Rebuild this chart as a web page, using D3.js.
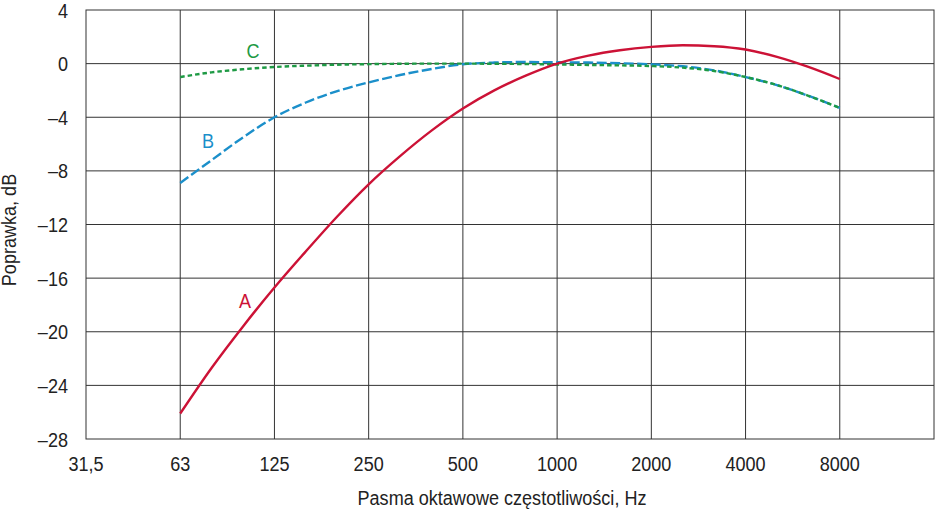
<!DOCTYPE html>
<html>
<head>
    <title>Krzywe korekcyjne A, B, C</title>
    <style>
        body { margin: 0; background: #fff; }
        text {
            font-family: "Liberation Sans", Arial, sans-serif;
            font-size: 21px;
            fill: #222;
        }
        .grid line, .frame { stroke: #333; stroke-width: 1; fill: none; }
        .curve { fill: none; stroke-width: 2.4; }
    </style>
</head>
<body>
    <svg id="chart" width="938" height="512"></svg>

    <script src="https://d3js.org/d3.v7.min.js"></script>
    <script>
        // octave band labels (x axis)
        const bandLabels = ['31,5', '63', '125', '250', '500', '1000', '2000', '4000', '8000'];
        const bandFreqs = [31.25, 62.5, 125, 250, 500, 1000, 2000, 4000, 8000];
        const yTicks = [4, 0, -4, -8, -12, -16, -20, -24, -28];

        // third-octave frequencies used for the curves
        const freqs = [62.5, 78.7, 99.2, 125, 157.5, 198.4, 250, 315, 396.9, 500, 630, 793.7,
                       1000, 1260, 1587, 2000, 2520, 3175, 4000, 5040, 6350, 8000];
        const curveA = [-26.1, -22.7, -19.6, -16.7, -14.0, -11.4, -9.0, -6.9, -5.0, -3.35, -2.0, -0.9,
                        0.0, 0.6, 1.0, 1.25, 1.37, 1.3, 1.05, 0.5, -0.25, -1.15];
        const curveB = [-8.9, -7.2, -5.5, -4.0, -2.9, -2.05, -1.4, -0.85, -0.4, -0.05, 0.08, 0.12,
                        0.1, 0.08, 0.03, -0.05, -0.2, -0.5, -1.0, -1.6, -2.4, -3.3];
        const curveC = [-1.0, -0.65, -0.42, -0.25, -0.15, -0.08, -0.04, -0.01, 0.0, 0.0, -0.01, -0.03,
                        -0.06, -0.1, -0.13, -0.18, -0.3, -0.55, -1.0, -1.6, -2.4, -3.3];

        const svg = d3.select('#chart'),
            margin = { top: 10, right: 4, bottom: 73, left: 86 },
            width = +svg.attr('width') - margin.left - margin.right,
            height = +svg.attr('height') - margin.top - margin.bottom;

        const x = d3.scaleLog().base(2).domain([31.25, 16000]).range([0, width]);
        const y = d3.scaleLinear().domain([-28, 4]).range([height, 0]);

        const squeeze = 'scale(0.86,1)'; // narrow the font like the condensed original

        const g = svg.append('g')
            .attr('transform', `translate(${margin.left},${margin.top})`);

        // grid
        const grid = g.append('g').attr('class', 'grid');
        grid.selectAll('.vline')
            .data(bandFreqs.slice(1))
            .enter().append('line')
            .attr('x1', d => x(d)).attr('x2', d => x(d))
            .attr('y1', 0).attr('y2', height);
        grid.selectAll('.hline')
            .data(yTicks.slice(1, -1))
            .enter().append('line')
            .attr('x1', 0).attr('x2', width)
            .attr('y1', d => y(d)).attr('y2', d => y(d));
        g.append('rect').attr('class', 'frame')
            .attr('x', 0).attr('y', 0).attr('width', width).attr('height', height);

        // tick labels
        g.selectAll('.ylab')
            .data(yTicks)
            .enter().append('text')
            .attr('transform', d => `translate(-18,${y(d) + 7.5}) ${squeeze}`)
            .attr('text-anchor', 'end')
            .text(d => d < 0 ? '\u2013' + Math.abs(d) : d);

        g.selectAll('.xlab')
            .data(bandFreqs)
            .enter().append('text')
            .attr('transform', d => `translate(${x(d)},${height + 32}) ${squeeze}`)
            .attr('text-anchor', 'middle')
            .text((d, i) => bandLabels[i]);

        // axis titles
        g.append('text')
            .attr('transform', `translate(416,${height + 66}) ${squeeze}`)
            .attr('text-anchor', 'middle')
            .text('Pasma oktawowe częstotliwości, Hz');
        svg.append('text')
            .attr('transform', `translate(16,230) rotate(-90) ${squeeze}`)
            .attr('text-anchor', 'middle')
            .text('Poprawka, dB');

        // curves
        const series = [
            { name: 'B', values: curveB, color: '#1b8fca', dash: '10,3.5' },
            { name: 'C', values: curveC, color: '#1e9a44', dash: '4.5,3' },
            { name: 'A', values: curveA, color: '#cc1236', dash: null }
        ];
        const line = d3.line()
            .x((d, i) => x(freqs[i]))
            .y(d => y(d))
            .curve(d3.curveMonotoneX);

        g.selectAll('.curve')
            .data(series)
            .enter().append('path')
            .attr('class', 'curve')
            .attr('stroke', d => d.color)
            .attr('stroke-dasharray', d => d.dash)
            .attr('d', d => line(d.values));

        // curve labels
        const labels = [
            { name: 'C', f: 106.8, v: 0.42, color: '#1e9a44' },
            { name: 'B', f: 76.7, v: -6.3, color: '#1b8fca' },
            { name: 'A', f: 100.7, v: -18.2, color: '#cc1236' }
        ];
        g.selectAll('.clab')
            .data(labels)
            .enter().append('text')
            .attr('transform', d => `translate(${x(d.f)},${y(d.v)}) ${squeeze}`)
            .attr('text-anchor', 'middle')
            .style('fill', d => d.color)
            .text(d => d.name);
    </script>
</body>
</html>
